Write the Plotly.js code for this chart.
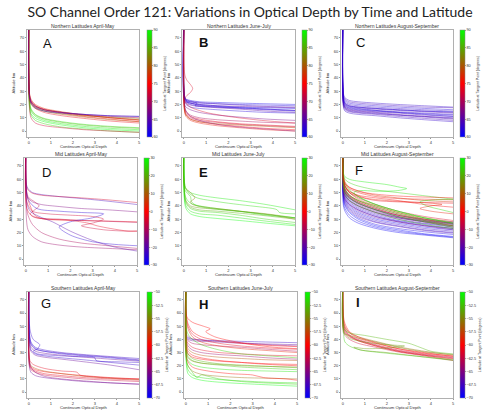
<!DOCTYPE html>
<html><head><meta charset="utf-8">
<script src="https://cdn.plot.ly/plotly-3.0.1.min.js"></script>
<style>body{margin:0;background:#fff}#chart{width:500px;height:414px}</style>
</head><body><div id="chart"></div><script>
// Shared optical-depth grid for regular profiles
const TAU = [0, 0.03, 0.1, 0.3, 0.7, 1.5, 2.5, 3.7, 5];

// Panel A: Northern Latitudes April-May  [latitude, altitudes on TAU]
const A_lines = [
  [89,[80,22,15,11,8,5.5,3.5,2,1]],
  [90,[80,20,13,9.5,7,4.5,2.5,1,0]],
  [88,[80,24,17,12.5,9.5,7,5,3.5,2.5]],
  [87,[80,19,12,8,5.5,3,1.5,0,-1]],
  [86,[80,23,16,12,9,6.5,4.5,3,2]],
  [83,[80,25,20,17,15,13,11.5,10.5,9.5]],
  [82,[80,26,21,18,16,14,12,10,8.5]],
  [80,[80,27,22,18,15,12.5,10.5,8.5,7]],
  [76,[80,28,23,19,16,13.5,11,9,7]],
  [75,[80,27,22,19,16.5,14,12,10,8]],
  [74,[80,26,21,17,14,11.5,9.5,7.5,6]],
  [77,[80,29,24,20,17,14.5,12,10,8.5]],
  [70,[80,28,23,19,16,14,12.5,11,10]],
  [66,[80,27,22,18.5,16,14,12.5,11.5,11]],
  [62,[80,26,21,17.5,15,13.5,12.5,11.5,11]],
  [72,[80,18,10,6,4,2.5,1,0,-1]]
];
const A_loops = [];

// Panel B: Northern Latitudes June-July
const B_lines = [
  [61,[80,26,24,23,22,21.5,21,20.5,20]],
  [62,[80,25,23,22,21,20.5,20,19.5,19]],
  [64,[80,27,24,22.5,21.5,20.5,19.5,18.5,18]],
  [60,[80,24,22,21,20,19,18,17.5,17]],
  [63,[80,25,22,20,19,18,17,16,15]],
  [65,[80,23,21,19.5,18.5,17.5,16.5,15,14]],
  [61,[80,26,23,21,19.5,18.5,17.5,16.5,15.5]],
  [66,[80,24,22,21,20,19,18.5,18,17.5]],
  [62,[80,22,20,18,17,16,15,14,13.5]],
  [67,[80,20,18,16,14,12,10.5,9,8]],
  [74,[80,18,14,11,9,7,5.5,4.5,3.5]],
  [75,[80,16,12,9,7,5,3.5,2,1]],
  [70,[80,19,15,12,10,8.5,7.5,6.5,6]],
  [72,[80,17,13,10,8,6.5,5,4,3]],
  [76,[80,15,11,8,6,4,2.5,1,0]],
  [80,[80,17,12,9,7,5.5,4.5,3.5,2.5]],
  [68,[80,21,15,11,8,5,3,1.5,0]]
];
const B_loops = [
  [73,[0,0.05,0.15,0.3,0.4,0.3,0.1,0.05,0.3,1,2,3.5,5],[80,42,38,35,32,29,26,22,18,14,11,8,6]],
  [63,[0,0.05,0.3,0.6,0.5,0.8,1.5,2.5,3.7,5],[80,24,22,21,19,18.5,18,17.5,16.5,15.5]]
];

// Panel C: Northern Latitudes August-September
const C_lines = [
  [63,[80,28,25,23,22,21,20,19,18]],
  [64,[80,27,24,22,21,20,19,18,17.5]],
  [62,[80,26,23,21,20,19,18,17,16]],
  [63,[80,25,22,20,19,18,17,16,15]],
  [65,[80,24,21,19,18,17,16,15,14]],
  [64,[80,23,20,18.5,17.5,16.5,15.5,14.5,13.5]],
  [63,[80,22,19,17.5,16.5,15.5,14.5,13.5,12.5]],
  [62,[80,24,20,18,17,15.5,14,13,12]],
  [64,[80,21,18,16.5,15.5,14.5,13.5,12,11]],
  [63,[80,20,17,15.5,14.5,13.5,12,11,10]],
  [65,[80,22,18,16,15,14,12.5,11,9.5]],
  [64,[80,19,16,14.5,13.5,12.5,11,9.5,8]],
  [62,[80,23,19,17,16,15,14,12.5,11]],
  [63,[80,18,15,13.5,12.5,11.5,10,8.5,7]],
  [61,[80,25,21,19,18,17,16,15,14.5]],
  [64,[80,21,17,15,14,13,12,10.5,9]]
];
const C_loops = [];

// Panel D: Mid Latitudes April-May
const D_lines = [
  [-22,[80,56,53,50,48.5,47,45.5,43.5,41]],
  [-5,[80,55,52,49.5,48,47,46,44.5,42.5]],
  [-15,[80,50,46,43,41,39.5,38,37,35.5]],
  [-10,[80,40,33,26,20,15,12,10,8]],
  [-12,[80,30,22,17,13,10.5,9,8,7]]
];
const D_loops = [
  [-2,[0,0.05,0.2,0.4,0.8,1.5,2.5,3.7,5],[80,48,40,33,30,29.5,29,28.5,28]],
  [-8,[0,0.1,0.4,0.6,0.4,0.2,0.5,1.5,2.5,3.5,5],[80,47,43,40,37,34,31,30,29,28.5,27.5]],
  [-25,[0,0.1,0.5,1.5,2.5,3.5,3,2,1.5,2,3,4,5],[80,45,38,36,35,34,31,28,24,18,13,11,10]],
  [-6,[0,0.05,0.3,1,2,3,3.5,3,2.5,3.5,4.5,5],[80,43,36,34,33,32,30,27,25,22,21,21]],
  [-20,[0,0.05,0.2,0.6,1.2,2,3,4,5],[80,42,36,32,28,21,14,9,6]],
  [-3,[0,0.05,0.3,1,2,2.8,3.2,3.8,4.6,5],[80,38,32,30,29,27,25,23,21,21]]
];

// Panel E: Mid Latitudes June-July
const E_lines = [
  [28,[80,58,53,50,48,46,44,41,37]],
  [29,[80,52,46,42,40,38,36,33,31]],
  [18,[80,50,44,40,38.5,37.5,36,34,31]],
  [25,[80,48,42,38,36,35,33,30,27.5]],
  [27,[80,46,40,36,34,33,31,28.5,26]],
  [30,[80,44,38,34,32,30.5,29,27,25]],
  [20,[80,50,43,39,37,36,34.5,32.5,30]]
];
const E_loops = [
  [26,[0,0.05,0.2,0.6,1.2,2,3,4,4.2,4.3,5],[80,55,50,46,44,42,40,38,37,35,34]],
  [14,[0,0.05,0.3,0.5,0.3,0.4,1,2,3,4,5],[80,54,50,46,43,41,39,37,35,33,30]],
  [24,[0,0.05,0.3,0.35,0.6,1.2,2,3,4,5],[80,52,47,43,40,38,36.5,35,33,31]]
];

// Panel F: Mid Latitudes August-September
const F_lines = [
  [-28,[80,55,50,45,40,35,31,28,26]],
  [-26,[80,52,47,42,37,32,28.5,25.5,23]],
  [-29,[80,50,45,40,35,30,27,24,22]],
  [-25,[80,48,43,38,33,28,25,22,20]],
  [-27,[80,46,41,36,31,26,23,20.5,18.5]],
  [-30,[80,45,40,35,30,25,22,19,17]],
  [-28,[80,42,38,33,28.5,24,21,18.5,16.5]],
  [-24,[80,57,52,47,42,37,32,29,27]],
  [-22,[80,54,49,44,39,34,30,27,25]],
  [-26,[80,53,48,43,38,33,29,26.5,24]],
  [-20,[80,51,46,41,36,31,28,25,23]],
  [-23,[80,49,44,39,34,29,26,23,21]],
  [-21,[80,47,42,37,32,27.5,24.5,21.5,19.5]],
  [-19,[80,56,51,46,41,36,31.5,28.5,26.5]],
  [-29,[80,40,36,31,27,23,20,18,16]],
  [-15,[80,55,50,46,42,37,33,29.5,27]],
  [-12,[80,53,48,44,40,35,31,28,25]],
  [-14,[80,58,53,48,43,38,33,30,28]],
  [-4,[80,60,55,50,46,41,36,32,29]],
  [-2,[80,58,54,50,47,44,43,42.5,42]],
  [1,[80,62,57,53,50,47,45.5,45,44.5]],
  [-6,[80,57,52,48,44,39,34,30,27]],
  [3,[80,56,51,47,43,38,33,29,25]],
  [-1,[80,59,55,51,48,46,44,41,39]],
  [-8,[80,54,50,46,42,37,32,28,24]],
  [10,[80,60,55,50,45,40,35,31,28]],
  [14,[80,56,52,48,44,40,35,30,26]],
  [27,[80,62,57,52,47,41,36,31,27]],
  [24,[80,58,53,48,44,39,34,29,25]],
  [29,[80,55,50,46,42,37,32,28,24]],
  [22,[80,52,48,44,40,35,30,26,23]],
  [-17,[80,50,45,41,37,32,28,25,22]],
  [5,[80,63,58,54,51,48,46,44,43]]
];
const F_loops = [
  [28,[0,0.05,0.3,1,2,2.6,2.9,2.5,1.5,0.8,0.5,0.8,1.5,2.5,3.7,5],[80,63,60,58,56,54,53,51.5,51,51.5,50,46,41,36,31,27]],
  [25,[0,0.1,0.5,1.5,2.5,3.5,4.5,5,4.2,3.5,3.8,4.5,5],[80,60,56,52,50,48,46,45,44.5,43,40,37,35]],
  [0,[0,0.05,0.3,1,2,3,4,5],[80,58,54,50,48,47,46.5,46]],
  [3,[0,0.1,0.4,1,2,3,4,4.5,4,3.5,4,5],[80,55,50,46,44,43,42,41,40,38,36,34]]
];

// Panel G: Southern Latitudes April-May
const G_lines = [
  [-68,[80,45,38,34,32,30,28.5,27,25.5]],
  [-67,[80,42,36,32.5,31,29.5,28,26.5,24.5]],
  [-66,[80,40,34,31,29.5,28,26.5,25,23.5]],
  [-68,[80,38,32,29,27.5,26,24.5,22.5,20.5]],
  [-66,[80,36,31,28,26.5,25,23,20.5,17]],
  [-69,[80,44,37,33,31,29,27.5,26,24]],
  [-60,[80,22,19,17,15.5,14,12.5,11,10]],
  [-61,[80,21,18,16,14,12.5,11,10,9]],
  [-62,[80,20,17,15,13,11.5,10,9,8]],
  [-57,[80,23,20,18,16,14,12,10.5,9.5]],
  [-65,[80,24,19,15,12,10,8.5,7,6]],
  [-66,[80,19,15,12.5,11,9.5,8,7,6]]
];
const G_loops = [
  [-68,[0,0.05,0.2,0.5,0.4,0.2,0.4,1,2,3,3.05,4,5],[80,48,40,36,33,31,29,28,27,26,24,23,22.5]],
  [-61,[0,0.05,0.2,0.7,1.5,2.2,2.3,3,4,5],[80,24,21,18,16,15,13,11.5,10.5,10]]
];

// Panel H: Southern Latitudes June-July
const H_lines = [
  [-68,[80,42,41,40,39.5,39,38.5,38,37.5]],
  [-66,[80,41,40,39,38.5,38,37,36.5,36]],
  [-65,[80,44,42,40.5,39.5,38.5,37.5,36,35]],
  [-60,[80,58,52,46,42,39,37,35.5,34.5]],
  [-61,[80,56,50,44,40,37,35,33.5,32.5]],
  [-63,[80,41,39,37,36,35,34,32.5,31]],
  [-59,[80,55,48,42,38,35,33,31.5,30]],
  [-61,[80,40,37,34,32,30,29,28,27.5]],
  [-64,[80,39,35,32,30,28.5,27.5,26,25]],
  [-57,[80,38,33,30,28,26.5,25.5,24.5,24]],
  [-60,[80,36,31,28,26,24,22.5,21,20]],
  [-52,[80,32,27,24,22,20.5,19,18,17]],
  [-55,[80,30,26,23.5,22,21,20,19.5,19]],
  [-51,[80,28,24,21,19,17.5,16.5,16,15.5]],
  [-53,[80,34,29,25.5,23.5,21.5,20.5,19.5,18.5]],
  [-50,[80,20,14,11,9,7.5,6.5,5.5,4.5]],
  [-51,[80,24,17,13,11,9.5,8.5,7.5,7]],
  [-56,[80,26,20,16,13.5,12,11,10.5,10]],
  [-60,[80,33,29,26.5,25,23.5,22.5,21.5,21]],
  [-52,[80,48,44,40,36,32,29,27.5,26]]
];
const H_loops = [
  [-60,[0,0.05,0.3,0.8,1.1,0.9,1.3,2,3,4,5],[80,57,53,50,48,46,42,39,36,34,33]],
  [-60,[0,0.05,0.3,1,2,3,3.5,4.5,5],[80,25,19,16,14,13,11,10,9]],
  [-52,[0,0.05,0.3,0.5,0.7,1,1.5,2.5,3.5,5],[80,22,15,11,13,12,10,8,7,6]]
];

// Panel I: Southern Latitudes August-September
const I_lines = [
  [-60,[80,55,50,45,41,37,33,30,27]],
  [-61,[80,52,48,43.5,40,36,32,29,26.5]],
  [-63,[80,50,46,42.5,39.5,35.5,31.5,28.5,26]],
  [-61,[80,53,47,43,39,35,31,28,25.5]],
  [-59,[80,48,45,42,39,35,31,28,25]],
  [-56,[80,55,49,45,42,38.5,34.5,31,28]],
  [-55,[80,45,44,43,41,38,34,30.5,28.5]],
  [-60,[80,58,52,46,42,37.5,33,29.5,27.5]],
  [-62,[80,47,43,40,37,34,30.5,27.5,24]]
];
const I_loops = [
  [-53,[0,0.05,0.3,1,2,3,3.5,4,5],[80,48,45,43,40,37,34,31,29]],
  [-52,[0,0.05,0.1,0.3,0.8,2,3.5,5],[80,42,38,35,32,29.5,27,24.5]],
  [-54,[0,0.05,0.3,1,2,2.8,2,1,0.5,0.8,2,3.5,5],[80,46,41,38,36,35,33.5,33,34,32,30,27,24]]
];

const TITLES = ["Northern Latitudes April-May","Northern Latitudes June-July","Northern Latitudes August-September",
  "Mid Latitudes April-May","Mid Latitudes June-July","Mid Latitudes August-September",
  "Southern Latitudes April-May","Southern Latitudes June-July","Southern Latitudes August-September"];
const LETTERS = ["A","B","C","D","E","F","G","H","I"];
const ROW_RANGES = [[60,90],[-30,30],[-70,-50]];
const ROW_TICKS = [[60,65,70,75,80,85,90],[-30,-20,-10,0,10,20,30],[-70,-67.5,-65,-62.5,-60,-57.5,-55,-52.5,-50]];
const X_TICKS = [0,1,2,3,4,5];
const Y_TICKS = [0,10,20,30,40,50,60,70];
const X_TITLE = 'Continuum Optical Depth';
const Y_TITLE = 'Altitude km';
const CB_TITLE = 'Latitude at Tangent Point (degrees)';

const LINES = [A_lines,B_lines,C_lines,D_lines,E_lines,F_lines,G_lines,H_lines,I_lines];
const LOOPS = [A_loops,B_loops,C_loops,D_loops,E_loops,F_loops,G_loops,H_loops,I_loops];

// layout geometry (pixels)
const W=500,H=414;
const ROWY = [[30,137],[158,265],[292,398]];
const PX = [[27,139],[182,295],[341,453],[24,137],[182,295],[341,453],[27,139],[184,297],[341,453]];
const CBX = [147,302,460,144,302,460,147,305,460];
const LETTER_POS = [[47,43],[203,42],[360,42],[46,172],[203,172],[359,170],[46,303],[203,304],[358,302]];
const BOLD = [false,true,false,false,true,false,false,true,true];

const CS = [[0,'rgb(0,0,255)'],[0.5,'rgb(255,0,0)'],[1,'rgb(0,255,0)']];
function brg(v,lo,hi){
  let t=(v-lo)/(hi-lo); t=Math.max(0,Math.min(1,t));
  let r,g,b;
  if(t<0.5){r=2*t;g=0;b=1-2*t;} else {r=2*(1-t);g=2*t-1;b=0;}
  return `rgb(${Math.round(r*255)},${Math.round(g*255)},${Math.round(b*255)})`;
}

const traces=[];
const layout={
  width:W,height:H,margin:{l:0,r:0,t:0,b:0},showlegend:false,
  paper_bgcolor:'#fff',plot_bgcolor:'#fff',
  font:{family:'Liberation Sans, Arial, sans-serif',color:'#333'},
  title:{text:'SO Channel Order 121: Variations in Optical Depth by Time and Latitude',
    x:0.5,xanchor:'center',y:1-12/H,yanchor:'middle',font:{family:'Lato, sans-serif',size:14,color:'#222'}},
  annotations:[]
};

for(let p=0;p<9;p++){
  const row=Math.floor(p/3);
  const [lo,hi]=ROW_RANGES[row];
  const xs = p===0?'':String(p+1);
  const xa='x'+xs, ya='y'+xs;
  const yd=[1-ROWY[row][1]/H, 1-ROWY[row][0]/H];
  const xd=[PX[p][0]/W, PX[p][1]/W];
  const axCommon={showgrid:false,zeroline:false,showline:true,mirror:true,linecolor:'#b0b0b0',linewidth:1,
    ticks:'outside',ticklen:1,tickwidth:0.6,tickcolor:'#555',tickfont:{size:4,color:'#333'}};
  layout['xaxis'+xs]=Object.assign({},axCommon,{domain:xd,anchor:ya,range:[-0.08,5],tickvals:X_TICKS});
  layout['yaxis'+xs]=Object.assign({},axCommon,{domain:yd,anchor:xa,range:[-4.5,76],tickvals:Y_TICKS});
  LINES[p].forEach(([lat,alt])=>{
    traces.push({type:'scatter',mode:'lines',x:TAU,y:alt,xaxis:xa,yaxis:ya,opacity:0.5,hoverinfo:'skip',
      line:{color:brg(lat,lo,hi),width:0.8,shape:'spline',smoothing:0.8}});
  });
  LOOPS[p].forEach(([lat,t,alt])=>{
    traces.push({type:'scatter',mode:'lines',x:t,y:alt,xaxis:xa,yaxis:ya,opacity:0.5,hoverinfo:'skip',
      line:{color:brg(lat,lo,hi),width:0.8,shape:'spline',smoothing:0.8}});
  });
  // colorbar carrier
  traces.push({type:'scatter',mode:'markers',x:[-10],y:[-100],xaxis:xa,yaxis:ya,hoverinfo:'skip',
    marker:{color:[lo],cmin:lo,cmax:hi,colorscale:CS,showscale:true,size:1,
      colorbar:{x:CBX[p]/W,xanchor:'left',y:(yd[0]+yd[1])/2,yanchor:'middle',len:yd[1]-yd[0],lenmode:'fraction',
        thickness:5,thicknessmode:'pixels',xpad:0,ypad:0,outlinewidth:0.5,outlinecolor:'#888',
        tickvals:ROW_TICKS[row],ticks:'outside',ticklen:1,tickwidth:0.5,tickfont:{size:3.8,color:'#333'},
        title:{text:CB_TITLE,side:'right',font:{size:3.5,color:'#333'}}}}});
  // subplot title
  layout.annotations.push({text:TITLES[p],xref:'paper',yref:'paper',x:(xd[0]+xd[1])/2,y:yd[1],yanchor:'middle',
    xanchor:'center',yshift:4,borderpad:0,showarrow:false,font:{size:5,color:'#333'}});
  // x axis title
  layout.annotations.push({text:X_TITLE,xref:'paper',yref:'paper',x:(xd[0]+xd[1])/2,y:yd[0],yanchor:'middle',
    xanchor:'center',yshift:-9.5,borderpad:0,showarrow:false,font:{size:4.2,color:'#333'}});
  // y axis title
  layout.annotations.push({text:Y_TITLE,xref:'paper',yref:'paper',x:xd[0],y:(yd[0]+yd[1])/2,yanchor:'middle',
    xanchor:'center',xshift:-14,textangle:-90,borderpad:0,showarrow:false,font:{size:4.2,color:'#333'}});
  // panel letter
  layout.annotations.push({text:BOLD[p]?'<b>'+LETTERS[p]+'</b>':LETTERS[p],xref:'paper',yref:'paper',
    x:LETTER_POS[p][0]/W,y:1-LETTER_POS[p][1]/H,xanchor:'center',yanchor:'middle',showarrow:false,
    font:{size:13,color:'#111',family:'Liberation Sans, Arial, sans-serif'}});
}

Plotly.newPlot('chart',traces,layout,{staticPlot:true,displayModeBar:false});
</script></body></html>
